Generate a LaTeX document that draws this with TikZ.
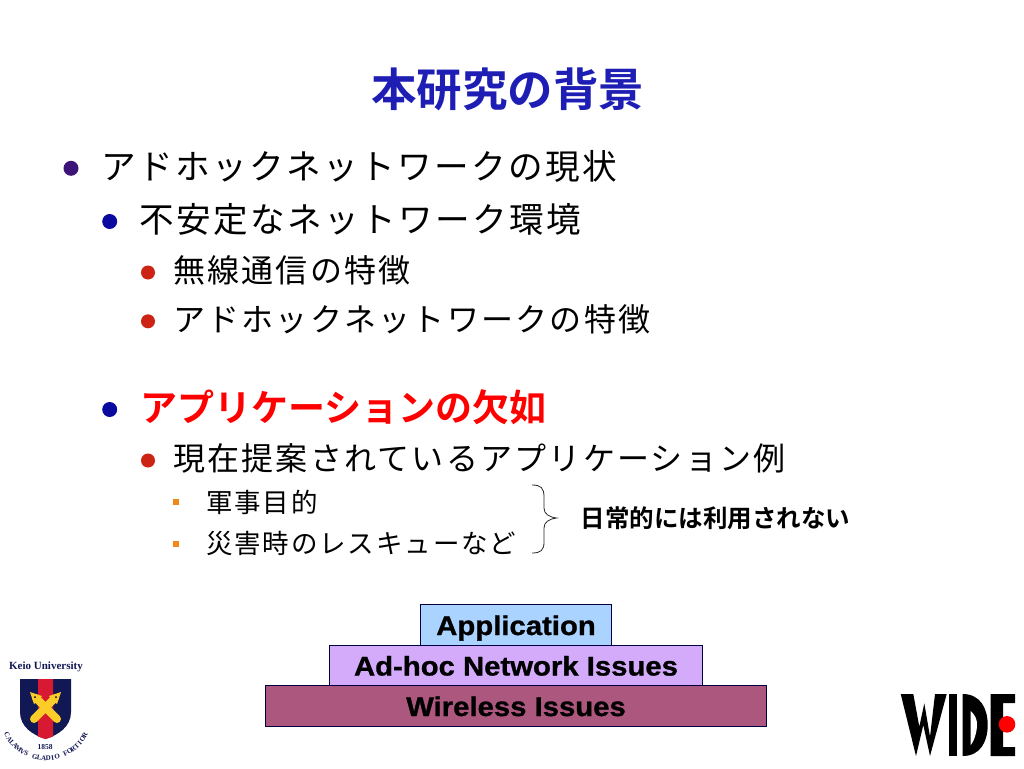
\documentclass[tikz,border=0pt]{standalone}
\usepackage{fontspec}
\setmainfont{Liberation Sans}
\newfontfamily\cjk[LetterSpace=7]{Noto Sans CJK JP}
\newfontfamily\cjkb{Noto Sans CJK JP Bold}
\newfontfamily\layerfont[FakeStretch=1.085,FakeBold=1]{Liberation Sans Bold}
\newfontfamily\keiofont{Liberation Serif Bold}
\usetikzlibrary{positioning}
\definecolor{titleblue}{RGB}{30,30,180}
\definecolor{dotpurple}{RGB}{60,20,120}
\definecolor{dotblue}{RGB}{10,10,160}
\definecolor{dotred}{RGB}{205,35,20}
\definecolor{dotorange}{RGB}{240,135,25}
\definecolor{appblue}{RGB}{170,212,255}
\definecolor{adhocpurple}{RGB}{212,170,250}
\definecolor{wirelessred}{RGB}{172,88,126}
\definecolor{keionavy}{RGB}{18,24,84}
\definecolor{keiored}{RGB}{215,25,50}
\definecolor{keioyellow}{RGB}{250,205,40}
\tikzset{
	txt/.style={anchor=west,inner sep=0pt,text=black},
	lvla/.style={txt,font=\cjk\fontsize{34.6}{37}\selectfont},
	lvlb/.style={txt,font=\cjk\fontsize{32}{34}\selectfont},
	lvlc/.style={txt,font=\cjk\fontsize{26.5}{28}\selectfont},
	layer/.style={draw=black!75!blue,line width=1pt,minimum height=40.5,inner sep=0pt,outer sep=0pt,
		font=\layerfont\fontsize{27}{27}\selectfont,text=black,text height=22,text depth=2},
	dot/.style={circle,inner sep=0pt,minimum size=#1},
	keiotxt/.style={inner sep=0pt,text=keionavy},
	pen/.style={line width=8,keioyellow,line cap=round}
}
\begin{document}
\begin{tikzpicture}[x=1pt,y=-1pt]
	\useasboundingbox (0,0) rectangle (1024,768);
	\fill[white] (0,0) rectangle (1024,768);
	\node[inner sep=0pt,text=titleblue,font=\cjkb\fontsize{45.5}{45}\selectfont] (title) at (507.5,89) {本研究の背景};
	% bullets
	\node[lvla] (ta) at (101,166) {アドホックネットワークの現状};
	\node[lvla] (tb) at (139.5,219) {不安定なネットワーク環境};
	\node[lvlb] (tc) at (173,270) {無線通信の特徴};
	\node[lvlb] (td) at (173,319) {アドホックネットワークの特徴};
	\node[lvla,text=red,font=\cjkb\fontsize{37}{37}\selectfont] (te) at (140,407.5) {アプリケーションの欠如};
	\node[lvlb] (tf) at (173,458.5) {現在提案されているアプリケーション例};
	\node[lvlc] (tg) at (206,502) {軍事目的};
	\node[lvlc] (th) at (206,543) {災害時のレスキューなど};
	\foreach \n/\x/\y/\c/\s in {da/71/168.3/dotpurple/15,db/109.7/221.5/dotblue/15,dc/148/272.5/dotred/14,dd/148/321.3/dotred/14,de/109.7/409.5/dotblue/15,df/148/460.5/dotred/14}{
		\node[dot=\s,fill=\c] (\n) at (\x,\y) {};}
	\foreach \n/\y in {dg/502,dh/544}{
		\node[fill=dotorange,inner sep=0pt,minimum size=6] (\n) at (176,\y) {};}
	% brace
	\draw[line width=0.8pt,black!85] (532,485) .. controls (541,485) and (544,488) .. (544,497)
		-- (544,508) .. controls (544,514) and (549,517) .. (556.5,518)
		.. controls (549,519) and (544,522) .. (544,528)
		-- (544,542) .. controls (544,550) and (541,553) .. (532,553);
	\node[inner sep=0pt,font=\cjkb\fontsize{24.5}{24.5}\selectfont] (note) at (715.5,518) {日常的には利用されない};
	% layers
	\node[layer,fill=wirelessred,minimum width=501] (wireless) at (516,706) {Wireless Issues};
	\node[layer,fill=adhocpurple,minimum width=373,above=0pt of wireless] (adhoc) {Ad-hoc Network Issues};
	\node[layer,fill=appblue,minimum width=191,above=0pt of adhoc] (app) {Application};
	% keio logo
	\node[keiotxt,font=\keiofont\fontsize{11}{11}\selectfont] (keio) at (46,667) {Keio University};
	\fill[keionavy] (20,679) -- (71,679) -- (71,712) .. controls (71,727) and (58,735) .. (45.5,739)
		.. controls (33,735) and (20,727) .. (20,712) -- cycle;
	\fill[keiored] (38,679) -- (53,679) -- (53,736.5) -- (45.5,739) -- (38,736.5) -- cycle;
	\draw[pen] (36,698) -- (57,719);
	\draw[pen] (55,698) -- (34,719);
	\fill[keioyellow] (30,692) -- (42,696) -- (34,704) -- cycle;
	\fill[keioyellow] (61,692) -- (49,696) -- (57,704) -- cycle;
	\fill[black] (35,697) circle (1);
	\fill[black] (56,697) circle (1);
	\node[keiotxt,font=\keiofont\fontsize{7.5}{8}\selectfont] (year) at (45,747) {1858};
	\foreach \t/\i in {C/0,A/1,L/2,A/3,M/4,V/5,S/6,G/8,L/9,A/10,D/11,I/12,O/13,F/15,O/16,R/17,T/18,I/19,O/20,R/21}{
		\pgfmathsetmacro\ang{-62+\i*5.9}
		\node[keiotxt,font=\keiofont\fontsize{7}{7}\selectfont,rotate=\ang] at ({46+44*sin(\ang)},{714.4+44*cos(\ang)}) {\t};}
	% wide logo
	\fill[black] (900.7,694) -- (913.3,694) -- (919.3,726.7) -- (924.3,703.3) -- (930,736.7) -- (935,694) -- (946.7,694) -- (930,756) -- (923.3,725) -- (916,756) -- cycle;
	\fill[black] (949,694) rectangle (957.3,756);
	\fill[black] (962.7,694) .. controls (980,694) and (987.7,708) .. (987.7,725) .. controls (987.7,742) and (980,756) .. (962.7,756) -- cycle;
	\fill[white] (970.7,711) .. controls (976,716) and (977,720) .. (977,725) .. controls (977,730) and (975,740) .. (970.7,745) -- cycle;
	\fill[black] (990.7,694) -- (1015,694) -- (1015,703) -- (1003,703) -- (1003,747) -- (1015,747) -- (1015,756) -- (990.7,756) -- cycle;
	\fill[red] (1007,724.3) circle (8.3);
\end{tikzpicture}
\end{document}
